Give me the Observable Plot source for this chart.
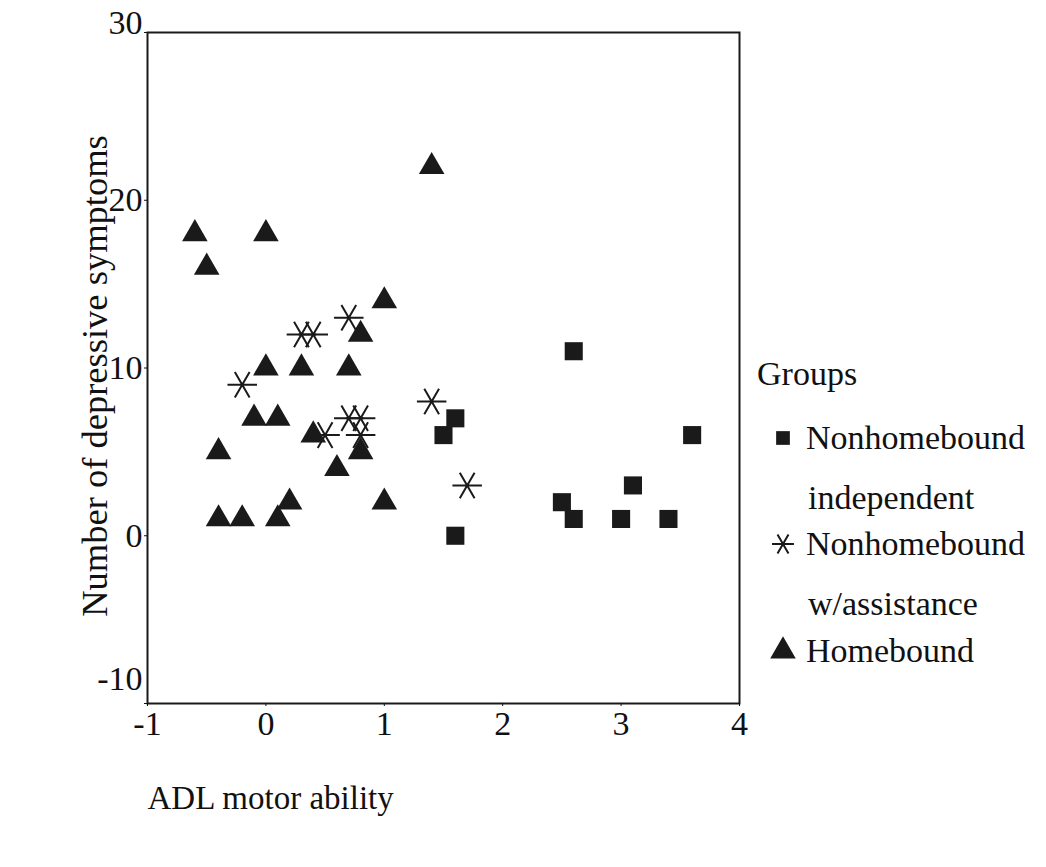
<!DOCTYPE html>
<html><head><meta charset="utf-8">
<script src="https://cdn.jsdelivr.net/npm/d3@7"></script>
<script src="https://cdn.jsdelivr.net/npm/@observablehq/plot@0.6"></script>
<style>
body{margin:0;background:#fff;font-family:"Liberation Serif","Times New Roman",serif;}
#wrap{position:relative;width:1046px;height:867px;overflow:hidden;}
#chart{position:absolute;left:0;top:0;}
.leg{position:absolute;font-size:34px;color:#111;line-height:1;white-space:nowrap;}
.icon{position:absolute;}
</style></head><body>
<div id="wrap"><div id="chart"></div><div id="legend"></div></div>
<script>
// Data
const groups = ["Nonhomebound independent", "Nonhomebound w/assistance", "Homebound"];
const legendLines = [["Nonhomebound", "independent"], ["Nonhomebound", "w/assistance"], ["Homebound"]];
const symbols = ["square", "asterisk", "triangle"];
const xLabel = "ADL motor ability";
const yLabel = "Number of depressive symptoms";

const indepX = [1.5, 1.6, 1.6, 2.6, 2.5, 2.6, 3.0, 3.1, 3.4, 3.6];
const indepY = [6, 7, 0, 11, 2, 1, 1, 3, 1, 6];

const assistX = [-0.2, 0.3, 0.4, 0.7, 0.5, 0.7, 0.8, 0.8, 1.4, 1.7];
const assistY = [9, 12, 12, 13, 6, 7, 7, 6, 8, 3];

const homeX = [1.4, -0.6, 0.0, -0.5, 1.0, 0.8, 0.0, 0.3, 0.7, -0.1, 0.1, 0.4, 0.8, -0.4, 0.6, 0.2, 1.0, -0.4, -0.2, 0.1];
const homeY = [22, 18, 18, 16, 14, 12, 10, 10, 10, 7, 7, 6, 5, 5, 4, 2, 2, 1, 1, 1];

const xTicks = [-1, 0, 1, 2, 3, 4];
const yTicks = [-10, 0, 10, 20, 30];
const yTickTop = [30];
const yTickBottom = [-10];

const rows = (xs, ys, g) => xs.map((x, i) => ({x, y: ys[i], group: g}));
const indep = rows(indepX, indepY, groups[0]);
const assist = rows(assistX, assistY, groups[1]);
const home = rows(homeX, homeY, groups[2]);

const ink = "#1a1a1a";
const fmt = d => String(d);
const isEdge = d => yTickTop.includes(d) || yTickBottom.includes(d);

const chart = Plot.plot({
  width: 760,
  height: 830,
  marginTop: 32,
  marginBottom: 127,
  marginLeft: 147,
  marginRight: 21,
  style: {fontFamily: "'Liberation Serif', 'Times New Roman', serif", fontSize: "34px", color: "#111", background: "#fff"},
  x: {domain: [-1, 4]},
  y: {domain: [-10, 30]},
  marks: [
    Plot.frame({stroke: ink, strokeWidth: 2}),
    Plot.axisX({ticks: xTicks, tickFormat: fmt, tickSize: 3, tickPadding: 4, label: null}),
    Plot.axisY({ticks: yTicks, tickFormat: d => isEdge(d) ? "" : fmt(d), tickSize: 3, tickPadding: 2, label: null}),
    Plot.axisY({ticks: yTickTop, tickFormat: fmt, tickSize: 0, tickPadding: 5, label: null, dy: -9}),
    Plot.axisY({ticks: yTickBottom, tickFormat: fmt, tickSize: 0, tickPadding: 5, label: null, dy: -24}),
    Plot.text([yLabel], {text: d => d, frameAnchor: "left", textAnchor: "middle", rotate: -90, dx: -52, dy: 8, fontSize: 36.5}),
    Plot.text([xLabel], {text: d => d, frameAnchor: "bottom-left", textAnchor: "start", dy: 105, fontSize: 33}),
    Plot.dot(home, {x: "x", y: "y", symbol: "triangle", r: 9.5, fill: ink, stroke: "none"}),
    Plot.dot(indep, {x: "x", y: "y", symbol: "square", r: 10.2, fill: ink, stroke: "none"}),
    Plot.dot(assist, {x: "x", y: "y", symbol: "asterisk", r: 14, rotate: 90, fill: "none", stroke: ink, strokeWidth: 2})
  ]
});
document.getElementById("chart").appendChild(chart);

// Legend (to the right of the plot)
const legend = d3.select("#legend");
legend.append("div").attr("class", "leg").style("left", "757px").style("top", "357px").text("Groups");
const itemTops = [421, 527, 634];
const iconSizes = [10, 14, 10];
groups.forEach((g, i) => {
  const top = itemTops[i];
  const svg = legend.append("svg").attr("class", "icon")
    .attr("width", 30).attr("height", 30)
    .style("left", "768px").style("top", (top + 2) + "px");
  const sym = d3.symbol().type({square: d3.symbolSquare, asterisk: d3.symbolAsterisk, triangle: d3.symbolTriangle}[symbols[i]])
    .size(Math.PI * iconSizes[i] * iconSizes[i] * (i === 0 ? 0.6 : (i === 1 ? 0.55 : 0.9)));
  svg.append("path").attr("d", sym())
    .attr("transform", `translate(15,15) rotate(${i === 1 ? 90 : 0})`)
    .attr("fill", i === 1 ? "none" : ink)
    .attr("stroke", i === 1 ? ink : "none")
    .attr("stroke-width", 2);
  legendLines[i].forEach((line, j) => {
    legend.append("div").attr("class", "leg")
      .style("left", (j === 0 ? 806 : 808) + "px")
      .style("top", (top + j * 60) + "px").text(line);
  });
});
</script>
</body></html>
